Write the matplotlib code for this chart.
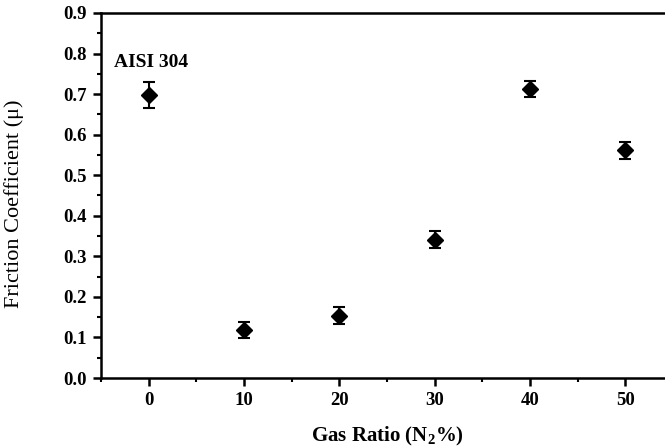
import matplotlib
matplotlib.use("Agg")
import matplotlib.pyplot as plt
from matplotlib.ticker import MultipleLocator, FormatStrFormatter

gas_ratio = [0, 10, 20, 30, 40, 50]
friction = [0.697, 0.119, 0.154, 0.341, 0.713, 0.561]
friction_err = [0.032, 0.020, 0.020, 0.021, 0.020, 0.021]
annotation = "AISI 304"
xlabel = "Gas Ratio (N$_\\mathbf{2}$%)"
ylabel = "Friction Coefficient (\u03bc)"

plt.rcParams['font.family'] = ['Liberation Serif', 'DejaVu Serif']
plt.rcParams['mathtext.fontset'] = 'custom'
plt.rcParams['mathtext.rm'] = 'Liberation Serif'
plt.rcParams['mathtext.bf'] = 'Liberation Serif:bold'

fig = plt.figure(figsize=(6.65, 4.48), dpi=100)
ax = fig.add_axes([101/665, 70/448, 572/665, 365/448])

ax.errorbar(gas_ratio, friction, yerr=friction_err, fmt='D', color='black',
            markersize=8.5, elinewidth=1.5, capsize=4, capthick=1.5, ecolor='black')

ax.set_xlim(-5, 55)
ax.set_ylim(0, 0.9)
ax.xaxis.set_major_locator(MultipleLocator(10))
ax.xaxis.set_minor_locator(MultipleLocator(5))
ax.yaxis.set_major_locator(MultipleLocator(0.1))
ax.yaxis.set_minor_locator(MultipleLocator(0.05))
ax.yaxis.set_major_formatter(FormatStrFormatter('%.1f'))

for s in ax.spines.values():
    s.set_linewidth(1.8)
ax.tick_params(which='major', direction='out', length=6, width=1.8, pad=4)
ax.tick_params(which='minor', direction='out', length=3, width=1.5)
for lab in ax.get_xticklabels() + ax.get_yticklabels():
    lab.set_fontsize(13.5)
    lab.set_fontweight('bold')

ax.text(-3.6, 0.777, annotation, fontsize=14, fontweight='bold', va='center', ha='left')

ax.set_ylabel(ylabel, fontsize=16)
ax.yaxis.set_label_coords(-0.135, 0.478)
ax.set_xlabel(xlabel, fontsize=15, fontweight='bold')
ax.xaxis.set_label_coords(0.5, -0.128)

fig.savefig("out.png", dpi=100)
